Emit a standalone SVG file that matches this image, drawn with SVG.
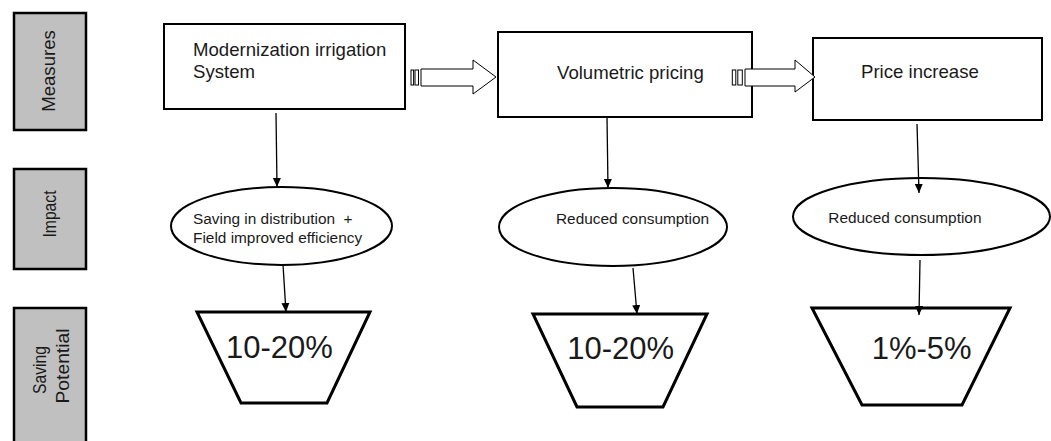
<svg xmlns="http://www.w3.org/2000/svg" width="1051" height="441" viewBox="0 0 1051 441">
<style>
  text { font-family: "Liberation Sans", Arial, sans-serif; fill: #1a1a1a; white-space: pre; }
  .lbl { fill: #c0c0c0; stroke: #000; stroke-width: 2.5; }
  .box { fill: #fff; stroke: #000; stroke-width: 2; }
  .ell { fill: #fff; stroke: #000; stroke-width: 2; }
  .trap { fill: #fff; stroke: #000; stroke-width: 3; }
  .blk { fill: #fff; stroke: #000; stroke-width: 1; }
  .con { stroke: #000; stroke-width: 1.3; fill: none; marker-end: url(#ah); }
  .t18 { font-size: 18.6px; }
  .t15 { font-size: 15.4px; }
  .t31 { font-size: 31px; }
</style>
<defs>
  <marker id="ah" markerUnits="userSpaceOnUse" markerWidth="10" markerHeight="10" viewBox="0 0 10 10" refX="9" refY="5" orient="auto">
    <path d="M0,1 L9,5 L0,9 Z" fill="#000"/>
  </marker>
</defs>
<rect width="1051" height="441" fill="#fff"/>

<g id="label-measures">
  <rect class="lbl" x="14" y="13" width="72" height="117"/>
  <text class="t18" transform="translate(55,71) rotate(-90)" text-anchor="middle">Measures</text>
</g>
<g id="label-impact">
  <rect class="lbl" x="14" y="169" width="72" height="100"/>
  <text class="t18" transform="translate(56,214) rotate(-90)" text-anchor="middle" textLength="47" lengthAdjust="spacingAndGlyphs">Impact</text>
</g>
<g id="label-saving">
  <rect class="lbl" x="14" y="308" width="72" height="140"/>
  <text class="t18" transform="translate(46,370) rotate(-90)" text-anchor="middle" textLength="48" lengthAdjust="spacingAndGlyphs">Saving</text>
  <text class="t18" transform="translate(69,366) rotate(-90)" text-anchor="middle" textLength="75" lengthAdjust="spacingAndGlyphs">Potential</text>
</g>

<g id="node-modernization">
  <rect class="box" x="164" y="24" width="241" height="85"/>
  <text class="t18" x="193" y="56">Modernization irrigation</text>
  <text class="t18" x="193" y="78.3">System</text>
</g>
<g id="node-volumetric">
  <rect class="box" x="498" y="32" width="254" height="85"/>
  <text class="t18" x="557" y="79.3">Volumetric pricing</text>
</g>
<g id="node-price">
  <rect class="box" x="813" y="38" width="229" height="82"/>
  <text class="t18" x="861" y="78.3">Price increase</text>
</g>

<g id="impact-1">
  <ellipse class="ell" cx="281.5" cy="226" rx="110.5" ry="39"/>
  <text class="t15" x="193" y="224">Saving in distribution  +</text>
  <text class="t15" x="193" y="242.7">Field improved efficiency</text>
</g>
<g id="impact-2">
  <ellipse class="ell" cx="613" cy="227" rx="114" ry="39"/>
  <text class="t15" x="556" y="224">Reduced consumption</text>
</g>
<g id="impact-3">
  <ellipse class="ell" cx="921.5" cy="216.5" rx="128.5" ry="38.5"/>
  <text class="t15" x="828.3" y="223.3">Reduced consumption</text>
</g>

<g id="saving-1">
  <polygon class="trap" points="197,312 370,312 327,403 241,403"/>
  <text class="t31" x="226" y="358.3">10-20%</text>
</g>
<g id="saving-2">
  <polygon class="trap" points="533,314 707,314 663,407 577,407"/>
  <text class="t31" x="567.3" y="359.3">10-20%</text>
</g>
<g id="saving-3">
  <polygon class="trap" points="812,308 1010,308 962,405 862,405"/>
  <text class="t31" x="871.7" y="359.3">1%-5%</text>
</g>

<g id="connectors">
  <g id="block-arrow-1">
    <rect class="blk" x="411" y="70" width="2.6" height="15"/>
    <rect class="blk" x="415" y="70" width="3.5" height="15"/>
    <path class="blk" d="M421,69 H473 V60 L496,77 L473,94 V86 H421 Z"/>
  </g>
  <g id="block-arrow-2">
    <rect class="blk" x="732.3" y="70" width="3.5" height="15"/>
    <rect class="blk" x="737.8" y="70" width="4.5" height="15"/>
    <path class="blk" d="M745,69 H795 V60 L815,77 L795,92 V86 H745 Z"/>
  </g>
  <line class="con" x1="276" y1="113" x2="277" y2="187"/>
  <line class="con" x1="283" y1="265" x2="286" y2="312"/>
  <line class="con" x1="607" y1="117" x2="608" y2="188"/>
  <line class="con" x1="633" y1="268" x2="637" y2="314"/>
  <line class="con" x1="917" y1="124" x2="919" y2="193"/>
  <line class="con" x1="920" y1="260" x2="919" y2="315"/>
</g>
</svg>
